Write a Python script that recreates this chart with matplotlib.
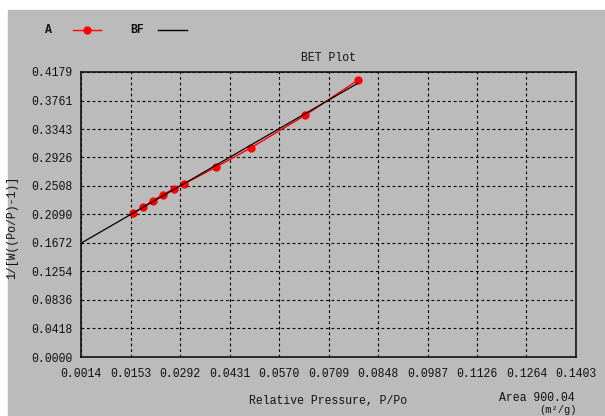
import numpy as np
import matplotlib
matplotlib.use('Agg')
import matplotlib.pyplot as plt
from matplotlib.lines import Line2D
from matplotlib.patches import Rectangle

# data
rel_pressure = [0.0159, 0.0187, 0.0215, 0.0243, 0.0275, 0.0303, 0.0392, 0.0490, 0.0643, 0.0790]
bet_y = [0.2107, 0.2195, 0.2292, 0.2380, 0.2468, 0.2537, 0.2782, 0.3065, 0.3544, 0.4057]

x_ticks = ['0.0014', '0.0153', '0.0292', '0.0431', '0.0570', '0.0709',
           '0.0848', '0.0987', '0.1126', '0.1264', '0.1403']
y_ticks = ['0.0000', '0.0418', '0.0836', '0.1254', '0.1672', '0.2090',
           '0.2508', '0.2926', '0.3343', '0.3761', '0.4179']

W, H = 605, 416
gray = '#bbbbbb'
font = 'Liberation Mono'
fs = 8.3
plt.rcParams['font.family'] = font

fig = plt.figure(figsize=(W / 100, H / 100), dpi=100, facecolor='white')
fig.patches.append(Rectangle((8 / W, 0), 1 - 8 / W, 1 - 10 / H,
                             transform=fig.transFigure, color=gray, zorder=-10))

ax = fig.add_axes([81 / W, 1 - 357 / H, 495 / W, 285 / H])
ax.set_facecolor(gray)

xt = [float(t) for t in x_ticks]
yt = [float(t) for t in y_ticks]
ax.set_xlim(xt[0], xt[-1])
ax.set_ylim(yt[0], yt[-1])
ax.set_xticks(xt)
ax.set_xticklabels(x_ticks)
ax.set_yticks(yt)
ax.set_yticklabels(y_ticks)
ax.tick_params(length=0, labelsize=fs, colors='#111111')
ax.tick_params(axis='x', pad=8)
ax.tick_params(axis='y', pad=6)
ax.grid(True, color='black', linestyle=(0, (2.5, 2.5)), linewidth=0.8)
for s in ax.spines.values():
    s.set_linewidth(1.2)
    s.set_color('#111111')

# best fit line
slope, icpt = np.polyfit(rel_pressure, bet_y, 1)
fx = np.array([xt[0], max(rel_pressure)])
ax.plot(rel_pressure, bet_y, color='red', linewidth=1, marker='o',
        markersize=5, zorder=3)
ax.plot(fx, slope * fx + icpt, color='black', linewidth=0.9, zorder=4)

ax.set_title('BET Plot', fontsize=fs, pad=8, color='#111111')

fig.text(12 / W, 1 - 227 / H, '1/[W((Po/P)-1)]', rotation=90, fontsize=fs,
         ha='center', va='center', color='#111111')
fig.text(328 / W, 1 - 401 / H, 'Relative Pressure, P/Po', fontsize=fs,
         ha='center', va='center', color='#111111')
fig.text(575 / W, 1 - 398 / H, 'Area 900.04', fontsize=fs,
         ha='right', va='center', color='#111111')
fig.text(577 / W, 1 - 405 / H, '(m²/g)', fontsize=7.5,
         ha='right', va='top', color='#111111')

# legend drawn by hand: label first, then line
fig.text(48 / W, 1 - 30 / H, 'A', fontsize=fs, ha='center', va='center',
         fontweight='bold', color='#111111')
fig.add_artist(Line2D([73 / W, 101 / W], [1 - 30 / H, 1 - 30 / H], color='red',
                      linewidth=1, transform=fig.transFigure))
fig.add_artist(Line2D([87 / W], [1 - 30 / H], color='red', marker='o',
                      markersize=5, transform=fig.transFigure))
fig.text(137 / W, 1 - 30 / H, 'BF', fontsize=fs, ha='center', va='center',
         fontweight='bold', color='#111111')
fig.add_artist(Line2D([158 / W, 187 / W], [1 - 30 / H, 1 - 30 / H], color='black',
                      linewidth=1, transform=fig.transFigure))

fig.savefig('out.png', dpi=100, facecolor='white')
